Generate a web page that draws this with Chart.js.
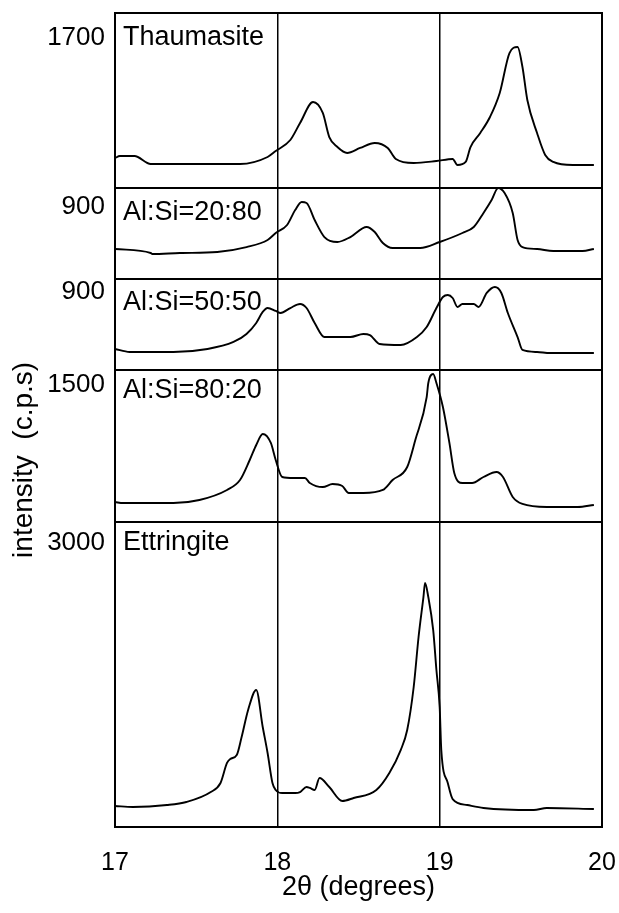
<!DOCTYPE html>
<html>
<head>
<meta charset="utf-8">
<script src="https://cdn.jsdelivr.net/npm/chart.js@4.4.1/dist/chart.umd.min.js"></script>
<style>
html, body { margin: 0; padding: 0; background: #fff; }
canvas { display: block; }
</style>
</head>
<body>
<canvas id="xrdChart" width="619" height="913"></canvas>
<script>
// panels from top to bottom
var panelNames = ['Thaumasite', 'Al:Si=20:80', 'Al:Si=50:50', 'Al:Si=80:20', 'Ettringite'];
var panelMax = [1700, 900, 900, 1500, 3000];
var xTicks = [17, 18, 19, 20];

// 2theta (degrees) / intensity (c.p.s)
var thaumX = [17.00, 17.03, 17.12, 17.22, 17.77, 17.94, 17.99, 18.08, 18.14, 18.22, 18.28, 18.32, 18.37, 18.43, 18.51, 18.60, 18.68, 18.73, 18.84, 18.98, 19.08, 19.11, 19.16, 19.19, 19.25, 19.31, 19.37, 19.43, 19.48, 19.51, 19.54, 19.60, 19.65, 19.70, 19.82, 19.95];
var thaumY = [291, 311, 311, 233, 233, 301, 359, 466, 631, 835, 729, 495, 398, 340, 389, 437, 389, 282, 243, 262, 282, 223, 253, 398, 534, 690, 923, 1311, 1370, 1175, 855, 534, 321, 253, 223, 223];

var si2080X = [17.00, 17.22, 17.23, 17.40, 17.63, 17.81, 17.94, 17.99, 18.06, 18.11, 18.15, 18.18, 18.23, 18.29, 18.37, 18.45, 18.55, 18.60, 18.65, 18.71, 18.88, 19.00, 19.14, 19.21, 19.27, 19.32, 19.36, 19.40, 19.45, 19.48, 19.51, 19.60, 19.70, 19.88, 19.95];
var si2080Y = [297, 257, 247, 257, 267, 316, 386, 455, 534, 682, 761, 752, 583, 415, 366, 415, 514, 465, 356, 307, 307, 366, 455, 514, 653, 781, 900, 850, 653, 386, 316, 297, 277, 277, 297];

var si5050X = [17.00, 17.09, 17.36, 17.57, 17.73, 17.81, 17.87, 17.91, 17.94, 17.99, 18.02, 18.08, 18.14, 18.18, 18.23, 18.29, 18.45, 18.53, 18.57, 18.63, 18.76, 18.86, 18.92, 18.98, 19.02, 19.05, 19.08, 19.11, 19.14, 19.21, 19.24, 19.29, 19.34, 19.38, 19.42, 19.48, 19.51, 19.60, 19.68, 19.95];
var si5050Y = [208, 178, 178, 208, 277, 356, 465, 574, 613, 584, 564, 613, 653, 613, 465, 326, 326, 356, 346, 257, 247, 326, 425, 613, 722, 742, 712, 623, 653, 653, 623, 762, 821, 762, 564, 326, 198, 178, 168, 168];

var si8020X = [17.00, 17.05, 17.36, 17.52, 17.69, 17.77, 17.83, 17.87, 17.91, 17.96, 17.99, 18.03, 18.10, 18.17, 18.20, 18.28, 18.34, 18.40, 18.44, 18.53, 18.65, 18.71, 18.80, 18.85, 18.92, 18.93, 18.96, 18.98, 19.02, 19.06, 19.09, 19.14, 19.20, 19.27, 19.35, 19.39, 19.45, 19.51, 19.66, 19.85, 19.95];
var si8020Y = [197, 187, 187, 217, 316, 414, 612, 760, 868, 780, 612, 444, 434, 434, 385, 345, 375, 355, 286, 286, 316, 414, 543, 809, 1233, 1372, 1460, 1372, 1135, 780, 484, 385, 385, 444, 493, 444, 247, 178, 148, 148, 168];

var ettrX = [17.00, 17.11, 17.32, 17.44, 17.59, 17.65, 17.69, 17.71, 17.75, 17.78, 17.82, 17.87, 17.91, 17.94, 17.97, 17.99, 18.03, 18.11, 18.14, 18.18, 18.20, 18.23, 18.26, 18.32, 18.40, 18.47, 18.61, 18.69, 18.76, 18.80, 18.84, 18.87, 18.90, 18.91, 18.93, 18.96, 18.98, 19.00, 19.01, 19.05, 19.08, 19.17, 19.27, 19.58, 19.66, 19.95];
var ettrY = [207, 197, 216, 246, 344, 433, 630, 669, 708, 885, 1151, 1348, 984, 728, 433, 364, 334, 334, 344, 393, 384, 364, 482, 393, 256, 285, 364, 531, 757, 954, 1377, 1869, 2262, 2400, 2262, 1938, 1544, 1180, 757, 433, 275, 216, 187, 167, 187, 177];

var panelX = [thaumX, si2080X, si5050X, si8020X, ettrX];
var panelY = [thaumY, si2080Y, si5050Y, si8020Y, ettrY];

var FONT = '"Liberation Sans", Arial, sans-serif';
var panelHeights = [175, 91, 91, 152, 305];
var tickDy = [25, 19, 13, 15, 21];
var nameDy = [25, 25, 24, 21, 21];

var datasets = [];
var scales = {
  x: {
    type: 'linear', min: 17, max: 20,
    afterBuildTicks: function (s) { s.ticks = xTicks.map(function (v) { return { value: v }; }); },
    ticks: { color: '#000', font: { family: FONT, size: 25 }, padding: 21, maxRotation: 0 },
    grid: { color: '#000', lineWidth: 1.5, drawTicks: false },
    border: { display: true, color: '#000', width: 2 },
    title: { display: true, text: '2θ (degrees)', color: '#000', font: { family: FONT, size: 27 }, padding: { top: 2, bottom: 9 } },
    afterFit: function (s) { s.height = 86; s.paddingLeft = 0; s.paddingRight = 17; }
  }
};

for (var i = 0; i < panelNames.length; i++) {
  var pts = [];
  for (var j = 0; j < panelX[i].length; j++) {
    pts.push({ x: panelX[i][j], y: panelY[i][j] });
  }
  datasets.push({
    label: panelNames[i],
    data: pts,
    yAxisID: 'y' + i,
    borderColor: '#000',
    borderWidth: 1.9,
    pointRadius: 0,
    fill: false,
    cubicInterpolationMode: 'monotone'
  });
}

// stacked left axes are laid out last-defined first, so add them bottom-up
for (var i = panelNames.length - 1; i >= 0; i--) {
  scales['y' + i] = {
    type: 'linear', position: 'left', stack: 'panels', stackWeight: panelHeights[i],
    min: 0, max: panelMax[i],
    afterBuildTicks: function (s) { s.ticks = [{ value: s.max }]; },
    ticks: {
      color: '#000', font: { family: FONT, size: 26 }, padding: 10,
      labelOffset: tickDy[i],
      callback: function (v) { return String(v); }
    },
    grid: { color: '#000', lineWidth: 2, drawTicks: false },
    border: { display: true, color: '#000', width: 2 },
    afterFit: function (s) { s.width = 115; s.paddingTop = 0; s.paddingBottom = 0; }
  };
}

var panelText = {
  id: 'panelText',
  afterDraw: function (chart) {
    var ctx = chart.ctx, a = chart.chartArea;
    ctx.save();
    ctx.strokeStyle = '#000';
    ctx.lineWidth = 2;
    ctx.strokeRect(a.left, a.top, a.right - a.left, a.bottom - a.top);
    ctx.fillStyle = '#000';
    ctx.font = '27px ' + FONT;
    ctx.textBaseline = 'middle';
    ctx.textAlign = 'left';
    for (var k = 0; k < panelNames.length; k++) {
      ctx.fillText(panelNames[k], a.left + 8, chart.scales['y' + k].top + nameDy[k]);
    }
    ctx.font = '28px ' + FONT;
    ctx.translate(24, a.top + (a.bottom - a.top) * 0.549);
    ctx.rotate(-Math.PI / 2);
    ctx.textAlign = 'center';
    ctx.fillText('intensity  (c.p.s)', 0, 0);
    ctx.restore();
  }
};

new Chart(document.getElementById('xrdChart').getContext('2d'), {
  type: 'line',
  data: { datasets: datasets },
  options: {
    responsive: false,
    animation: false,
    layout: { padding: { top: 13, right: 0, left: 0, bottom: 0 } },
    scales: scales,
    plugins: { legend: { display: false }, tooltip: { enabled: false } }
  },
  plugins: [panelText]
});
</script>
</body>
</html>
